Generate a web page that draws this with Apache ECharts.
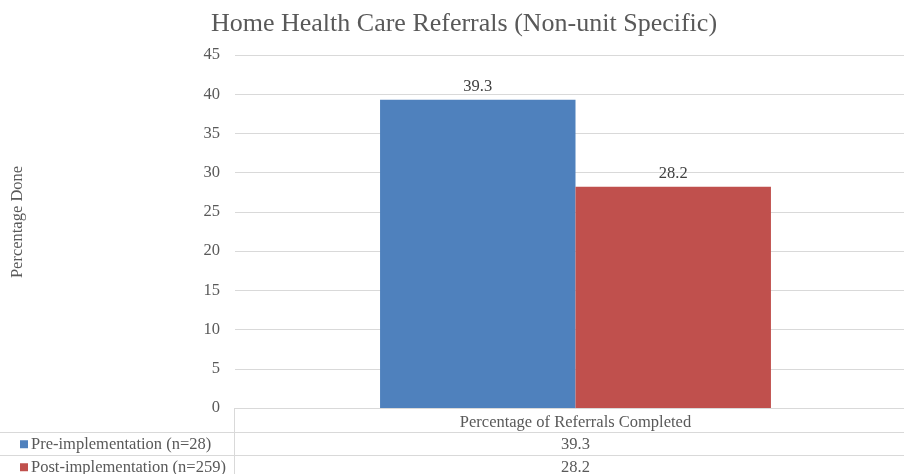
<!DOCTYPE html>
<html>
<head>
<meta charset="utf-8">
<script src="https://cdn.jsdelivr.net/npm/echarts@6/dist/echarts.min.js"></script>
<style>
  html, body { margin: 0; padding: 0; background: #fff; }
  #chart { width: 904px; height: 474px; }
</style>
</head>
<body>
<div id="chart"></div>
<script>
// Chart data
const titleText = 'Home Health Care Referrals (Non-unit Specific)';
const yAxisName = 'Percentage Done';
const categories = ['Percentage of Referrals Completed'];
const seriesNames = ['Pre-implementation (n=28)', 'Post-implementation (n=259)'];
const preValues = [39.3];
const postValues = [28.2];
const seriesColors = ['#4F81BD', '#C0504D'];
const yTicks = { min: 0, max: 45, interval: 5 };

const FONT = '"Liberation Serif", "Times New Roman", serif';
const TEXT = '#595959';
const GRIDLINE = '#D9D9D9';
const FS = 16.5;

const chart = echarts.init(document.getElementById('chart'), null, { renderer: 'canvas' });

const allValues = [preValues, postValues];

const option = {
  animation: false,
  backgroundColor: '#ffffff',
  textStyle: { fontFamily: FONT },
  title: {
    text: titleText,
    left: 459,
    top: 6,
    textAlign: 'center',
    textStyle: { fontFamily: FONT, fontSize: 26, fontWeight: 'normal', color: TEXT }
  },
  // the plot area runs a little past the right edge of the canvas
  grid: { left: 235, top: 55, right: -12, bottom: 66, containLabel: false, outerBoundsMode: 'none' },
  xAxis: {
    type: 'category',
    data: categories,
    axisLine: { show: true, lineStyle: { color: GRIDLINE, width: 1 } },
    axisTick: { show: false },
    axisLabel: { fontFamily: FONT, fontSize: FS, color: TEXT, margin: 6 }
  },
  yAxis: {
    type: 'value',
    min: yTicks.min,
    max: yTicks.max,
    interval: yTicks.interval,
    axisLine: { show: false },
    axisTick: { show: false },
    axisLabel: { fontFamily: FONT, fontSize: FS, color: TEXT, margin: 15 },
    splitLine: { lineStyle: { color: GRIDLINE, width: 1 } }
  },
  series: allValues.map((vals, i) => ({
    name: seriesNames[i],
    type: 'bar',
    data: vals,
    barGap: '0%',
    barCategoryGap: '42.6%',
    itemStyle: { color: seriesColors[i] },
    label: {
      show: true,
      position: 'top',
      distance: 5,
      fontFamily: FONT,
      fontSize: FS,
      color: '#404040',
      formatter: p => p.value.toFixed(1)
    }
  }))
};

chart.setOption(option);

// Axis title, rotated, left of the value axis
const graphics = [{
  type: 'text', silent: true,
  x: 18, y: 222, rotation: Math.PI / 2,
  style: { x: 0, y: 0, text: yAxisName, fontFamily: FONT, fontSize: FS, fill: TEXT, align: 'center', verticalAlign: 'middle' }
}];

// Data table under the axis: legend keys, series names and values
const axisY = chart.convertToPixel({ yAxisIndex: 0 }, 0);
const rowH = 23.5;
const tableLeft = 234.5;
const lineStyle = { stroke: GRIDLINE, lineWidth: 1 };

// vertical divider between key column and value column
graphics.push({ type: 'line', silent: true, shape: { x1: tableLeft, y1: axisY, x2: tableLeft, y2: 474 }, style: lineStyle });

seriesNames.forEach((name, i) => {
  const top = Math.round(axisY + rowH * (i + 1)) + 0.5;
  graphics.push({ type: 'line', silent: true, shape: { x1: 0, y1: top, x2: 904, y2: top }, style: lineStyle });
  const mid = top + rowH / 2;
  graphics.push({ type: 'rect', silent: true, shape: { x: 20, y: mid - 4, width: 8, height: 8 }, style: { fill: seriesColors[i] } });
  graphics.push({
    type: 'text', silent: true,
    style: { x: 31, y: mid, text: name, fontFamily: FONT, fontSize: FS, fill: TEXT, verticalAlign: 'middle' }
  });
  categories.forEach((c, j) => {
    const cx = chart.convertToPixel({ xAxisIndex: 0 }, c);
    graphics.push({
      type: 'text', silent: true,
      style: { x: cx, y: mid, text: allValues[i][j].toFixed(1), fontFamily: FONT, fontSize: FS, fill: TEXT, align: 'center', verticalAlign: 'middle' }
    });
  });
});

chart.setOption({ graphic: graphics });
</script>
</body>
</html>
